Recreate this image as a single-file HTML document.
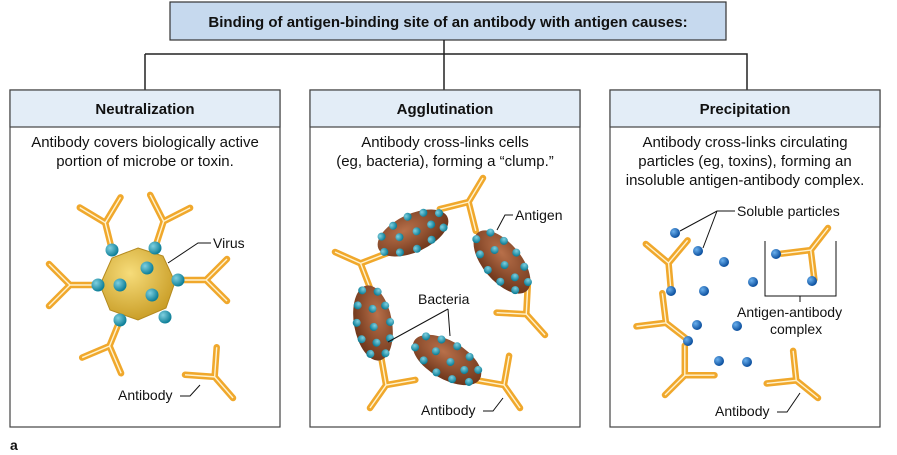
<!DOCTYPE html>
<html><head><meta charset="utf-8"><style>
body{margin:0;background:#fff;}
svg{display:block;font-family:"Liberation Sans",Arial,sans-serif;}
</style></head><body>
<svg width="897" height="455" viewBox="0 0 897 455" xmlns="http://www.w3.org/2000/svg">
<defs>
<g id="ab">
<path d="M0,0 L0,-28 M0,-28 L-21,-49 M0,-28 L21,-49" stroke="#f0a82c" stroke-width="6.5" stroke-linecap="round" fill="none"/>
<path d="M0,0 L0,-28 M0,-28 L-21,-49 M0,-28 L21,-49" stroke="#fff3cf" stroke-width="1.4" fill="none"/>
</g>
<radialGradient id="bd" cx="35%" cy="35%" r="65%"><stop offset="0" stop-color="#7fd0e0"/><stop offset="1" stop-color="#0e7f98"/></radialGradient>
<radialGradient id="bb" cx="35%" cy="35%" r="65%"><stop offset="0" stop-color="#6ab0ee"/><stop offset="1" stop-color="#0b4f9e"/></radialGradient>
<radialGradient id="br" cx="40%" cy="35%" r="70%"><stop offset="0" stop-color="#b8704a"/><stop offset="1" stop-color="#6b3318"/></radialGradient>
<radialGradient id="vy" cx="40%" cy="35%" r="70%"><stop offset="0" stop-color="#f6dc7a"/><stop offset="1" stop-color="#c79a22"/></radialGradient>
<g id="bac">
<ellipse cx="0" cy="0" rx="38" ry="19" fill="url(#br)"/>
<g fill="url(#bd)">
<circle cx="-30" cy="-10" r="4"/><circle cx="-15" cy="-15" r="4"/><circle cx="2" cy="-17" r="4"/><circle cx="18" cy="-14" r="4"/><circle cx="32" cy="-7" r="4"/>
<circle cx="-34" cy="5" r="4"/><circle cx="-20" cy="12" r="4"/><circle cx="-3" cy="16" r="4"/><circle cx="14" cy="14" r="4"/><circle cx="30" cy="8" r="4"/>
<circle cx="-14" cy="-2" r="4"/><circle cx="4" cy="0" r="4"/><circle cx="20" cy="0" r="4"/>
</g>
</g>
</defs>

<rect x="170" y="2" width="556" height="38" fill="#c6d9ee" stroke="#333" stroke-width="1.2"/>
<text x="448" y="27" text-anchor="middle" font-size="15" font-weight="bold" fill="#111">Binding of antigen-binding site of an antibody with antigen causes:</text>
<path d="M444,40 V90 M145,54 H747 V90 M145,54 V90" stroke="#222" stroke-width="1.5" fill="none"/>

<g stroke="#444" stroke-width="1.2">
<rect x="10" y="90" width="270" height="337" fill="#fff"/>
<rect x="310" y="90" width="270" height="337" fill="#fff"/>
<rect x="610" y="90" width="270" height="337" fill="#fff"/>
<rect x="10" y="90" width="270" height="37" fill="#e3edf7"/>
<rect x="310" y="90" width="270" height="37" fill="#e3edf7"/>
<rect x="610" y="90" width="270" height="37" fill="#e3edf7"/>
</g>
<g font-size="15" fill="#111" text-anchor="middle">
<text x="145" y="114" font-weight="bold">Neutralization</text>
<text x="445" y="114" font-weight="bold">Agglutination</text>
<text x="745" y="114" font-weight="bold">Precipitation</text>
<text x="145" y="147">Antibody covers biologically active</text>
<text x="145" y="166">portion of microbe or toxin.</text>
<text x="445" y="147">Antibody cross-links cells</text>
<text x="445" y="166">(eg, bacteria), forming a “clump.”</text>
<text x="745" y="147">Antibody cross-links circulating</text>
<text x="745" y="166">particles (eg, toxins), forming an</text>
<text x="745" y="185">insoluble antigen-antibody complex.</text>
</g>

<!-- Neutralization -->
<use href="#ab" transform="translate(112,250) rotate(-14)"/>
<use href="#ab" transform="translate(155,248) rotate(18)"/>
<use href="#ab" transform="translate(178,280) rotate(90)"/>
<use href="#ab" transform="translate(98,285) rotate(-90)"/>
<use href="#ab" transform="translate(120,320) rotate(-158)"/>
<use href="#ab" transform="translate(233,398) rotate(-41)"/>
<polygon points="138,248 163,256 175,282 166,308 138,320 110,310 100,285 112,258" fill="url(#vy)" stroke="#b48a1e" stroke-width="1"/>
<g fill="url(#bd)">
<circle cx="112" cy="250" r="6.5"/><circle cx="155" cy="248" r="6.5"/><circle cx="147" cy="268" r="6.5"/><circle cx="98" cy="285" r="6.5"/><circle cx="120" cy="285" r="6.5"/><circle cx="152" cy="295" r="6.5"/><circle cx="178" cy="280" r="6.5"/><circle cx="120" cy="320" r="6.5"/><circle cx="165" cy="317" r="6.5"/>
</g>
<g font-size="14" fill="#111">
<text x="213" y="248">Virus</text>
<text x="118" y="400">Antibody</text>
</g>
<path d="M211,243 H198 L168,263 M180,396 H190 L200,385" stroke="#111" fill="none"/>

<!-- Agglutination -->
<use href="#ab" transform="translate(483,178) rotate(-149)"/>
<use href="#ab" transform="translate(335,252) rotate(114)"/>
<use href="#ab" transform="translate(370,408) rotate(35)"/>
<use href="#ab" transform="translate(545,335) rotate(-42)"/>
<use href="#ab" transform="translate(520,408) rotate(-35)"/>
<use href="#bac" transform="translate(413,233) rotate(-25)"/>
<use href="#bac" transform="translate(502,262) rotate(50)"/>
<use href="#bac" transform="translate(373,323) rotate(80)"/>
<use href="#bac" transform="translate(447,360) rotate(30)"/>
<g font-size="14" fill="#111">
<text x="515" y="220">Antigen</text>
<text x="418" y="304">Bacteria</text>
<text x="421" y="415">Antibody</text>
</g>
<path d="M513,215 H505 L497,230 M448,309 L388,342 M448,309 L450,336 M483,411 H493 L503,398" stroke="#111" fill="none"/>

<!-- Precipitation -->
<use href="#ab" transform="translate(671,291) rotate(-5)"/>
<use href="#ab" transform="translate(688,340) rotate(-52)"/>
<use href="#ab" transform="translate(665,395) rotate(45)"/>
<use href="#ab" transform="translate(828,228) rotate(-142)"/>
<use href="#ab" transform="translate(818,398) rotate(-51)"/>
<g fill="url(#bb)">
<circle cx="675" cy="233" r="5"/><circle cx="698" cy="251" r="5"/><circle cx="724" cy="262" r="5"/><circle cx="753" cy="282" r="5"/>
<circle cx="671" cy="291" r="5"/><circle cx="704" cy="291" r="5"/><circle cx="697" cy="325" r="5"/><circle cx="737" cy="326" r="5"/>
<circle cx="688" cy="341" r="5"/><circle cx="719" cy="361" r="5"/><circle cx="747" cy="362" r="5"/>
<circle cx="776" cy="254" r="5"/><circle cx="812" cy="281" r="5"/>
</g>
<path d="M765,241 V296 H836 V241 M800,296 V302" stroke="#111" fill="none"/>
<g font-size="14" fill="#111">
<text x="737" y="216">Soluble particles</text>
<text x="737" y="317">Antigen-antibody</text>
<text x="770" y="334">complex</text>
<text x="715" y="416">Antibody</text>
</g>
<path d="M735,211 H717 L680,231 M717,211 L703,248 M777,412 H787 L800,393" stroke="#111" fill="none"/>

<text x="10" y="450" font-size="14" font-weight="bold" fill="#111">a</text>
</svg>
</body></html>
